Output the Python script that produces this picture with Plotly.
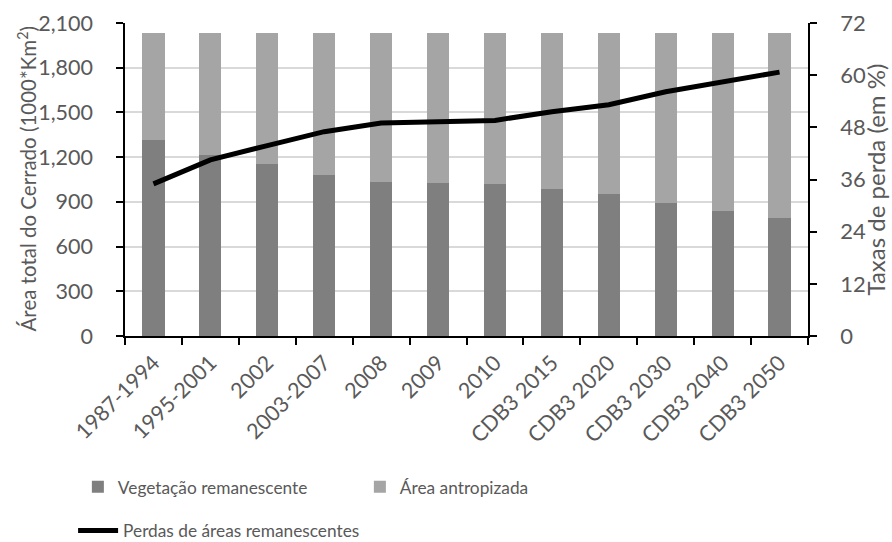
import plotly.graph_objects as go

categorias = ["1987-1994", "1995-2001", "2002", "2003-2007", "2008", "2009", "2010",
              "CDB3 2015", "CDB3 2020", "CDB3 2030", "CDB3 2040", "CDB3 2050"]
remanescente = [1315, 1212, 1152, 1082, 1035, 1029, 1022, 986, 955, 895, 841, 794]
antropizada = [715, 818, 878, 948, 995, 1001, 1008, 1044, 1075, 1135, 1189, 1236]
perdas = [35.0, 40.5, 43.8, 47.0, 49.0, 49.3, 49.6, 51.6, 53.2, 56.2, 58.5, 60.7]

FONT = "Lato"
GRAY = "#595959"

fig = go.Figure()
fig.add_trace(go.Bar(x=categorias, y=remanescente, name="Vegetação remanescente",
                     marker=dict(color="#7f7f7f", line=dict(width=0)), legend="legend"))
fig.add_trace(go.Bar(x=categorias, y=antropizada, name="Área antropizada",
                     marker=dict(color="#a5a5a5", line=dict(width=0)), legend="legend"))
fig.add_trace(go.Scatter(x=categorias, y=perdas, name="Perdas de áreas remanescentes",
                         mode="lines", line=dict(color="black", width=5),
                         yaxis="y2", legend="legend2"))

fig.update_layout(
    width=892, height=542,
    margin=dict(l=125, r=84, t=23, b=206, autoexpand=False),
    barmode="stack", bargap=0.61,
    plot_bgcolor="white", paper_bgcolor="white",
    font=dict(family=FONT, size=18, color=GRAY),
    xaxis=dict(type="category", tickson="boundaries", ticks="outside", ticklen=7,
               tickwidth=1.5, tickcolor="black", showline=True, linecolor="black",
               linewidth=1.5, tickangle=-45, showgrid=False, ticklabelstandoff=4,
               automargin=False, tickfont=dict(size=21.5, color=GRAY)),
    yaxis=dict(range=[0, 2100], dtick=300, tickformat=",", ticks="outside", ticklen=7,
               tickwidth=1.5, tickcolor="black", showline=True, linecolor="black",
               linewidth=1.5, showgrid=True, gridcolor="#d9d9d9", gridwidth=1.5,
               zeroline=False, ticklabelstandoff=19, automargin=False,
               tickfont=dict(size=21.5, color=GRAY)),
    yaxis2=dict(range=[0, 72], dtick=12, overlaying="y", side="right", ticks="outside",
                ticklen=7, tickwidth=1.5, tickcolor="black", showline=True,
                linecolor="black", linewidth=1.5, showgrid=False, zeroline=False,
                ticklabelstandoff=19, automargin=False,
                tickfont=dict(size=22, color=GRAY)),
    legend=dict(orientation="h", x=-0.069, xanchor="left", y=-0.425, yanchor="top",
                entrywidth=237, font=dict(size=17.3, color=GRAY), traceorder="normal",
                bgcolor="rgba(0,0,0,0)"),
    legend2=dict(orientation="h", x=-0.076, xanchor="left", y=-0.565, yanchor="top",
                 font=dict(size=17.3, color=GRAY), itemwidth=40,
                 bgcolor="rgba(0,0,0,0)"),
    annotations=[
        dict(text="Área total do Cerrado (1000*Km<sup>2</sup>)", textangle=-90,
             xref="paper", yref="paper", x=(27 - 125) / 683, y=0.5,
             xanchor="center", yanchor="middle", showarrow=False,
             font=dict(size=20.5, color=GRAY)),
        dict(text="Taxas de perda (em %)", textangle=-90,
             xref="paper", yref="paper", x=(875 - 125) / 683, y=0.5,
             xanchor="center", yanchor="middle", showarrow=False,
             font=dict(size=24, color=GRAY)),
    ],
)

fig.write_html("out.html", config={"displayModeBar": False},
               post_script="document.body.style.margin='0';"
               "document.body.style.padding='0';")
